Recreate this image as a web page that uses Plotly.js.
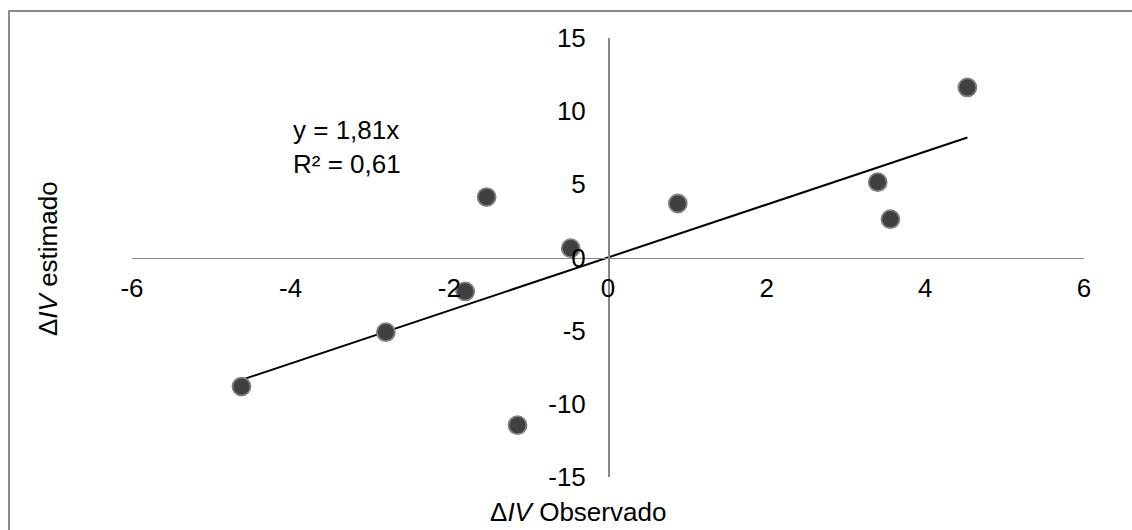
<!DOCTYPE html>
<html>
<head>
<meta charset="utf-8">
<script src="https://cdn.plot.ly/plotly-3.0.1.min.js"></script>
<style>
  html, body { margin: 0; padding: 0; background: #ffffff; }
  #wrap { position: relative; width: 1132px; height: 530px; overflow: hidden; }
  #chart { position: absolute; left: 0; top: 0; width: 1132px; height: 530px; }
  #frame { position: absolute; left: 8px; top: 10px; width: 1200px; height: 600px;
           border: 2px solid #8a8a8a; pointer-events: none; }
</style>
</head>
<body>
<div id="wrap">
  <div id="chart"></div>
  <div id="frame"></div>
</div>
<script>
const observed  = [4.53, 3.40, 3.56, 0.88, -0.47, -1.53, -1.80, -2.80, -4.62, -1.14];
const estimated = [11.62, 5.15, 2.62, 3.69, 0.64, 4.13, -2.32, -5.10, -8.82, -11.46];

// Linear trend through origin (from the chart's equation)
const trendSlope = 1.81;
const trendLabel = ["y = 1,81x", "R² = 0,61"];

// Axis ticks
const xTicks = [-6, -4, -2, 0, 2, 4, 6];
const yTicks = [-15, -10, -5, 0, 5, 10, 15];
const xRange = [-6, 6];
const yRange = [-15, 15];

const xTitle = "Δ<i>IV</i> Observado";
const yTitle = "Δ<i>IV</i> estimado";

const xMin = Math.min(...observed);
const xMax = Math.max(...observed);
const trendX = [xMin, xMax];
const trendY = trendX.map(v => trendSlope * v);

const FONT = "Liberation Sans, Arial, sans-serif";
const FS = 26;

const data = [
  {
    x: trendX, y: trendY, type: 'scatter', mode: 'lines',
    line: { color: '#000000', width: 2 },
    hoverinfo: 'skip', showlegend: false
  },
  {
    x: observed, y: estimated, type: 'scatter', mode: 'markers',
    marker: { size: 18, color: '#404040', line: { color: '#808080', width: 1.8 } },
    showlegend: false
  }
];

const layout = {
  width: 1132, height: 530,
  margin: { l: 132, r: 48, t: 38, b: 53 },
  paper_bgcolor: 'rgba(0,0,0,0)',
  plot_bgcolor: 'rgba(0,0,0,0)',
  font: { family: FONT, size: FS, color: '#000000' },
  showlegend: false,
  xaxis: {
    range: xRange, tickvals: xTicks, ticktext: xTicks.map(String),
    anchor: 'free', position: 0.5,
    showline: true, linecolor: '#878787', linewidth: 1.6,
    showgrid: false, zeroline: false, ticks: '',
    ticklabelstandoff: 7,
    tickfont: { family: FONT, size: FS, color: '#000000' }
  },
  yaxis: {
    range: yRange, tickvals: yTicks, ticktext: yTicks.map(String),
    anchor: 'free', position: 0.5,
    showline: true, linecolor: '#878787', linewidth: 1.6,
    showgrid: false, zeroline: false, ticks: '',
    ticklabelstandoff: 17,
    tickfont: { family: FONT, size: FS, color: '#000000' }
  },
  annotations: [
    {
      x: -3.99, y: 7.55, xref: 'x', yref: 'y',
      text: trendLabel.join('<br>'), showarrow: false,
      xanchor: 'left', yanchor: 'middle', align: 'left',
      font: { family: FONT, size: FS, color: '#000000' }
    },
    {
      x: 0.4685, y: -0.079, xref: 'paper', yref: 'paper',
      text: xTitle, showarrow: false, xanchor: 'center', yanchor: 'middle',
      font: { family: FONT, size: FS, color: '#000000' }
    },
    {
      x: -0.088, y: 0.497, xref: 'paper', yref: 'paper',
      text: yTitle, showarrow: false, textangle: -90,
      xanchor: 'center', yanchor: 'middle',
      font: { family: FONT, size: FS, color: '#000000' }
    }
  ]
};

Plotly.newPlot('chart', data, layout, { staticPlot: true, displayModeBar: false });
</script>
</body>
</html>
